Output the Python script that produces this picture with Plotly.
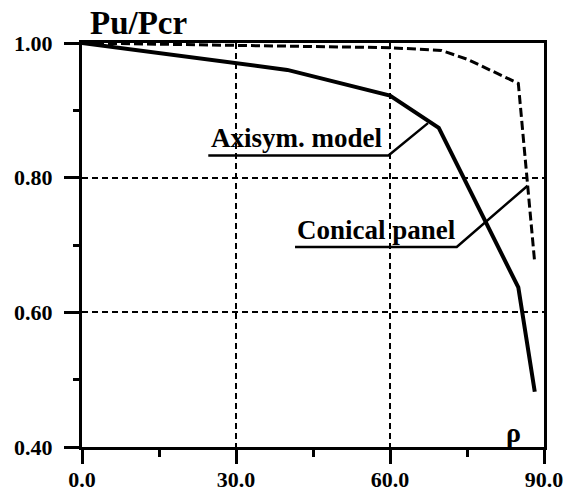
import plotly.graph_objects as go

# Ultimate load ratio Pu/Pcr versus angle rho
rho_axisym = [0.0, 30.0, 40.0, 60.0, 69.5, 85.0, 88.2]
pu_axisym = [1.000, 0.971, 0.960, 0.922, 0.874, 0.637, 0.482]

rho_conical = [0.0, 30.0, 60.0, 70.0, 75.0, 80.0, 85.0, 88.2]
pu_conical = [1.000, 0.997, 0.993, 0.989, 0.976, 0.958, 0.940, 0.673]

x_ticks = [0.0, 30.0, 60.0, 90.0]
y_ticks = [0.40, 0.60, 0.80, 1.00]

# leader lines (underline + pointer) for the two curve labels
lead_axisym_x = [24.6, 59.7, 67.4]
lead_axisym_y = [0.833, 0.833, 0.881]
lead_conical_x = [41.5, 73.0, 86.8]
lead_conical_y = [0.697, 0.697, 0.788]

FONT = "Liberation Serif"
BLACK = "#000000"

fig = go.Figure()

fig.add_trace(go.Scatter(
    x=rho_axisym, y=pu_axisym, mode="lines",
    line=dict(color=BLACK, width=4), showlegend=False, cliponaxis=False,
))
fig.add_trace(go.Scatter(
    x=rho_conical, y=pu_conical, mode="lines",
    line=dict(color=BLACK, width=3, dash="9px,4px"), showlegend=False, cliponaxis=False,
))
fig.add_trace(go.Scatter(
    x=lead_axisym_x, y=lead_axisym_y, mode="lines",
    line=dict(color=BLACK, width=2.5), showlegend=False,
))
fig.add_trace(go.Scatter(
    x=lead_conical_x, y=lead_conical_y, mode="lines",
    line=dict(color=BLACK, width=2.5), showlegend=False,
))

fig.add_annotation(x=24.8, y=0.859, text="Axisym. model", showarrow=False,
                   xanchor="left", yanchor="middle",
                   font=dict(family=FONT, size=27, color=BLACK, weight="bold"))
fig.add_annotation(x=41.5, y=0.723, text="Conical panel", showarrow=False,
                   xanchor="left", yanchor="middle",
                   font=dict(family=FONT, size=27, color=BLACK, weight="bold"))
fig.add_annotation(x=1.2, y=1.05, yref="paper", text="Pu/Pcr", showarrow=False,
                   xanchor="left", yanchor="middle",
                   font=dict(family=FONT, size=33, color=BLACK, weight="bold"))
fig.add_annotation(x=84.0, y=0.421, text="ρ", showarrow=False,
                   xanchor="center", yanchor="middle",
                   font=dict(family=FONT, size=28, color=BLACK, weight="bold"))

axis_common = dict(
    showline=True, linecolor=BLACK, linewidth=3, mirror=True,
    ticks="outside", tickcolor=BLACK, tickwidth=3,
    showgrid=True, gridcolor=BLACK, gridwidth=2, griddash="6px,4px",
    zeroline=False, automargin=False,
    tickfont=dict(family=FONT, size=22, color=BLACK, weight="bold"),
)

fig.update_xaxes(
    range=[0, 90], tickvals=x_ticks, ticktext=[f"{v:.1f}" for v in x_ticks],
    ticklen=14, ticklabelstandoff=-3,
    minor=dict(dtick=15, ticklen=7, tickwidth=3, tickcolor=BLACK, ticks="outside", showgrid=False),
    **axis_common,
)
fig.update_yaxes(
    range=[0.4, 1.0], tickvals=y_ticks, ticktext=[f"{v:.2f}" for v in y_ticks],
    ticklen=15, ticklabelstandoff=7,
    minor=dict(dtick=0.1, ticklen=6, tickwidth=3, tickcolor=BLACK, ticks="outside", showgrid=False),
    **axis_common,
)

fig.update_layout(
    width=573, height=497,
    margin=dict(l=82, r=29, t=43, b=50),
    paper_bgcolor="white", plot_bgcolor="white",
    showlegend=False,
)

fig.write_html("out.html")
